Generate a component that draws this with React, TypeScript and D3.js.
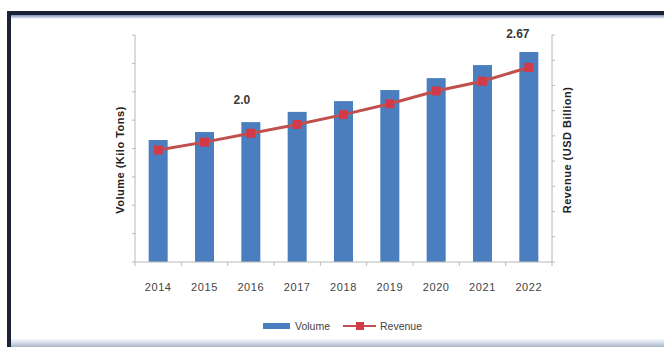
import React from "react";
import * as d3 from "d3";

const years = ["2014", "2015", "2016", "2017", "2018", "2019", "2020", "2021", "2022"];
const volume = [4.3, 4.58, 4.93, 5.29, 5.67, 6.06, 6.48, 6.94, 7.4];
const revenue = [1.83, 1.91, 2.0, 2.09, 2.19, 2.3, 2.43, 2.53, 2.67];
const volumeDomain = [0, 8];
const revenueDomain = [0.69, 3.0];
const annotations = [
  { year: "2016", text: "2.0" },
  { year: "2022", text: "2.67" },
];
const seriesNames = ["Volume", "Revenue"];

const W = 664;
const H = 347;
const m = { left: 135, right: 552, top: 35, bottom: 262 };
const BLUE = "#4a7ebf";
const RED = "#c0504d";
const MARK = "#d23a48";
const AXIS = "#b8b8b8";
const TXT = "#444";
const FONT = "'Liberation Sans', Arial, sans-serif";

export default function App() {
  const x = d3.scaleBand<string>().domain(years).range([m.left, m.right]).paddingInner(0.59).paddingOuter(0.295);
  const yL = d3.scaleLinear().domain(volumeDomain).range([m.bottom, m.top]);
  const yR = d3.scaleLinear().domain(revenueDomain).range([m.bottom, m.top]);
  const step = x.step();
  const cx = (y: string) => (x(y) as number) + x.bandwidth() / 2;

  const leftTicks = d3.range(0, 9).map((i) => volumeDomain[0] + (i * (volumeDomain[1] - volumeDomain[0])) / 8);
  const rightTicks = d3.range(0, 10).map((i) => revenueDomain[0] + (i * (revenueDomain[1] - revenueDomain[0])) / 9);
  const bounds = d3.range(0, years.length + 1).map((i) => m.left + i * step);

  const line = d3
    .line<number>()
    .x((_, i) => cx(years[i]))
    .y((d) => yR(d));

  return (
    <svg width={W} height={H} style={{ position: "absolute", left: 0, top: 0, display: "block" }} fontFamily={FONT}>
      <defs>
        <linearGradient id="topg" x1="0" y1="0" x2="0" y2="1">
          <stop offset="0" stopColor="#7a8bc0" />
          <stop offset="1" stopColor="#ffffff" />
        </linearGradient>
        <linearGradient id="botg" x1="0" y1="0" x2="0" y2="1">
          <stop offset="0" stopColor="#f4f7fc" />
          <stop offset="0.5" stopColor="#d3dcea" />
          <stop offset="1" stopColor="#aab3c2" />
        </linearGradient>
      </defs>
      <rect x={0} y={0} width={W} height={H} fill="#fff" />
      {/* frame */}
      <rect x={7} y={15} width={W - 7} height={4} fill="url(#topg)" />
      <rect x={7} y={339} width={W - 7} height={8} fill="url(#botg)" />
      <rect x={7} y={11} width={W - 7} height={4} fill="#1b2233" />
      <rect x={7} y={11} width={4} height={H - 11} fill="#1b2233" />

      {/* bars */}
      {years.map((yr, i) => (
        <rect key={yr} x={x(yr)} y={yL(volume[i])} width={x.bandwidth()} height={m.bottom - yL(volume[i])} fill={BLUE} />
      ))}

      {/* axes */}
      <line x1={m.left} x2={m.left} y1={m.top} y2={m.bottom} stroke={AXIS} />
      <line x1={m.right} x2={m.right} y1={m.top} y2={m.bottom} stroke={AXIS} />
      <line x1={m.left} x2={m.right} y1={m.bottom} y2={m.bottom} stroke={AXIS} />
      {leftTicks.map((t) => (
        <line key={"l" + t} x1={m.left - 3} x2={m.left} y1={yL(t)} y2={yL(t)} stroke={AXIS} />
      ))}
      {rightTicks.map((t) => (
        <line key={"r" + t} x1={m.right} x2={m.right + 3} y1={yR(t)} y2={yR(t)} stroke={AXIS} />
      ))}
      {bounds.map((b) => (
        <line key={"b" + b} x1={b} x2={b} y1={m.bottom} y2={m.bottom + 4} stroke={AXIS} />
      ))}
      {years.map((yr) => (
        <text key={"t" + yr} x={cx(yr)} y={291} textAnchor="middle" fontSize={11} fill={TXT} letterSpacing={0.6}>
          {yr}
        </text>
      ))}

      {/* revenue line */}
      <path d={line(revenue) as string} fill="none" stroke={RED} strokeWidth={3} />
      {revenue.map((v, i) => (
        <rect key={"m" + i} x={cx(years[i]) - 4.5} y={yR(v) - 4.5} width={9} height={9} fill={MARK} />
      ))}

      {/* annotations */}
      {annotations.map((a) => (
        <text
          key={a.text}
          x={cx(a.year) - (a.year === "2022" ? 11 : 9)}
          y={a.year === "2022" ? 38 : 104}
          textAnchor="middle"
          fontSize={12}
          fontWeight="bold"
          fill="#3a3a3a"
        >
          {a.text}
        </text>
      ))}

      {/* axis titles */}
      <text transform={`translate(124,160) rotate(-90)`} textAnchor="middle" fontSize={11} fontWeight="bold" fill="#222" letterSpacing={0.5}>
        Volume (Kilo Tons)
      </text>
      <text transform={`translate(571,150) rotate(-90)`} textAnchor="middle" fontSize={11} fontWeight="bold" fill="#222" letterSpacing={0.5}>
        Revenue (USD Billion)
      </text>

      {/* legend */}
      <rect x={263} y={323} width={27} height={6} fill={BLUE} />
      <text x={295} y={330} fontSize={10.5} fill={TXT}>
        {seriesNames[0]}
      </text>
      <line x1={343} x2={376} y1={326} y2={326} stroke={RED} strokeWidth={2} />
      <rect x={356} y={322} width={8} height={8} fill={MARK} />
      <text x={380} y={330} fontSize={10.5} fill={TXT}>
        {seriesNames[1]}
      </text>
    </svg>
  );
}
